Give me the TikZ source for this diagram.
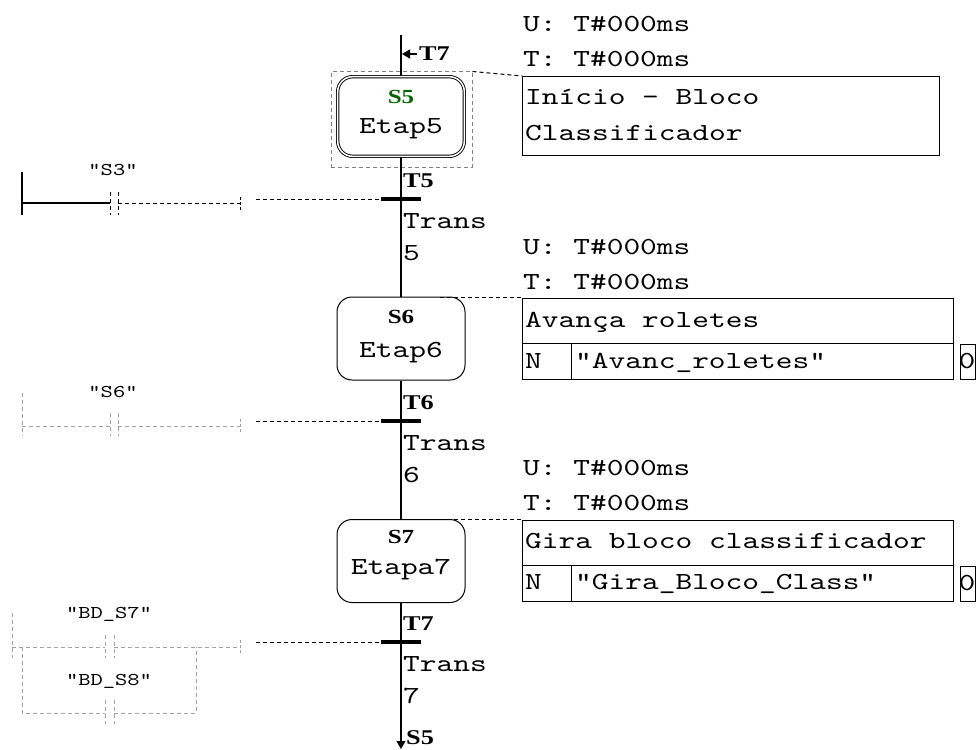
\documentclass[tikz,border=0pt]{standalone}
\usepackage{fontspec}
\newfontfamily\monof{lmmono10-regular}[Extension=.otf, FakeStretch=1.3]
\newfontfamily\lblf[FakeStretch=1.25]{Liberation Serif}
\usetikzlibrary{arrows.meta}
\definecolor{stepgreen}{RGB}{0,100,0}
\definecolor{ladgray}{RGB}{160,160,160}
\tikzset{
  txt/.style={inner sep=0pt, anchor=base west, font=\monof\fontsize{24.5}{28}\selectfont},
  ctxt/.style={inner sep=0pt, anchor=base, font=\monof\fontsize{24.5}{28}\selectfont},
  lbl/.style={inner sep=0pt, anchor=base west, font=\lblf\bfseries\fontsize{21}{24}\selectfont},
  clbl/.style={inner sep=0pt, anchor=base, font=\lblf\bfseries\fontsize{20}{24}\selectfont},
  opnd/.style={inner sep=0pt, anchor=base, font=\monof\fontsize{18}{20}\selectfont},
  stepbox/.style={draw, line width=1pt, rounded corners=15pt, inner sep=0pt, minimum width=128, minimum height=83},
  tbar/.style={fill=black, inner sep=0pt, minimum width=40, minimum height=4},
  abox/.style={draw, line width=1pt, inner sep=0pt, anchor=north west},
  bdash/.style={line width=1pt, dash pattern=on 4pt off 3pt},
  gdash/.style={draw=ladgray, line width=1pt, dash pattern=on 4pt off 3pt},
  wire/.style={line width=1.2pt},
}
\begin{document}
\begin{tikzpicture}[x=1pt,y=-1pt]
\useasboundingbox (0,0) rectangle (976,749);
% ---------- steps ----------
\node[draw, double, double distance=1.5pt, line width=0.9pt, rounded corners=15pt,
      minimum width=126.6, minimum height=79.6, inner sep=0pt] (s5) at (401,116.5) {};
\node[gdash, draw=gray, inner sep=0pt, minimum width=141, minimum height=95] (sel) at (401.5,119.5) {};
\node[clbl, text=stepgreen] (s5n) at (401,103) {S5};
\node[ctxt] (s5t) at (401,133) {Etap5};

\node[stepbox] (s6) at (401,338.5) {};
\node[clbl] (s6n) at (401,323) {S6};
\node[ctxt] (s6t) at (401,357) {Etap6};

\node[stepbox] (s7) at (401,561) {};
\node[clbl] (s7n) at (401,543) {S7};
\node[ctxt] (s7t) at (401,574) {Etapa7};

% ---------- transitions ----------
\node[tbar] (t5) at (400.5,199) {};
\node[tbar] (t6) at (400.5,421) {};
\node[tbar] (t7) at (400.5,642) {};

% ---------- main line ----------
\coordinate (top) at (401,35);
\coordinate (bot) at (401,749);
\draw[wire] (top) -- (s5.north);
\draw[wire] (s5.south) -- (s6.north);
\draw[wire] (s6.south) -- (s7.north);
\draw[wire, -{Triangle[length=8pt,width=9pt]}] (s7.south) -- (bot);
\coordinate (tjA) at (417,54);
\coordinate (tjB) at (402,54);
\draw[wire, -{Triangle[length=8pt,width=9pt]}] (tjA) -- (tjB);
\node[lbl] (jt7) at (419,61) {T7};
\node[lbl] (js5) at (406,744) {S5};

% transition labels
\node[lbl] (t5l) at (403,187) {T5};
\node[txt] (t5a) at (403,228) {Trans};
\node[txt] (t5b) at (403,260) {5};
\node[lbl] (t6l) at (403,409) {T6};
\node[txt] (t6a) at (403,450) {Trans};
\node[txt] (t6b) at (403,482) {6};
\node[lbl] (t7l) at (403,630) {T7};
\node[txt] (t7a) at (403,671) {Trans};
\node[txt] (t7b) at (403,703) {7};

% ---------- action blocks ----------
\node[txt] (u1) at (523,32) {U: T\#000ms};
\node[txt] (v1) at (523,67) {T: T\#000ms};
\node[abox, minimum width=417, minimum height=79] (a1) at (522,76) {};
\node[txt] (a1x) at (525,105) {Início - Bloco};
\node[txt] (a1y) at (525,140) {Classificador};
\draw[bdash] (sel.north east) -- (a1.north west);

\node[txt] (u2) at (523,254) {U: T\#000ms};
\node[txt] (v2) at (523,289) {T: T\#000ms};
\node[abox, minimum width=431, minimum height=45.5] (a2) at (522,297.5) {};
\node[abox, minimum width=49, minimum height=36] (a2n) at (522,343) {};
\node[abox, minimum width=382, minimum height=36] (a2q) at (571,343) {};
\node[txt] (a2x) at (525,327) {Avança roletes};
\node[txt] (a2y) at (525,368) {N};
\node[txt] (a2z) at (575,368) {"Avanc\_roletes"};
\node[abox, minimum width=15.5, minimum height=35] (a2o) at (959.5,344) {};
\node[ctxt] (a2ot) at (967,368) {0};
\coordinate (s6r) at (440,297.5);
\draw[bdash] (s6r) -- (a2.north west);

\node[txt] (u3) at (523,475) {U: T\#000ms};
\node[txt] (v3) at (523,510) {T: T\#000ms};
\node[abox, minimum width=431, minimum height=45] (a3) at (522,519.5) {};
\node[abox, minimum width=49, minimum height=36] (a3n) at (522,564.5) {};
\node[abox, minimum width=382, minimum height=36] (a3q) at (571,564.5) {};
\node[txt] (a3x) at (525,548) {Gira bloco classificador};
\node[txt] (a3y) at (525,589) {N};
\node[txt] (a3z) at (575,589) {"Gira\_Bloco\_Class"};
\node[abox, minimum width=15.5, minimum height=35] (a3o) at (959.5,565.5) {};
\node[ctxt] (a3ot) at (967,590) {0};
\coordinate (s7r) at (440,519.5);
\draw[bdash] (s7r) -- (a3.north west);

% ---------- ladder for T5 ----------
\node[opnd] (op3) at (113,175) {"S3"};
\coordinate (r1top) at (22,172); \coordinate (r1bot) at (22,215);
\draw[wire] (r1top) -- (r1bot);
\coordinate (r1a) at (22,203); \coordinate (r1b) at (110,203);
\draw[wire] (r1a) -- (r1b);
\coordinate (c1a) at (110,192); \coordinate (c1b) at (110,215);
\coordinate (c1c) at (118,192); \coordinate (c1d) at (118,215);
\draw[bdash] (c1a) -- (c1b); \draw[bdash] (c1c) -- (c1d);
\coordinate (r1c) at (118,203); \coordinate (r1d) at (240,203);
\draw[bdash] (r1c) -- (r1d);
\coordinate (k1a) at (240,197); \coordinate (k1b) at (240,210);
\draw[bdash, dash pattern=on 3pt off 2pt] (k1a) -- (k1b);
\coordinate (l5) at (256,199);
\draw[bdash] (l5) -- (t5.west);

% ---------- ladder for T6 ----------
\node[opnd] (op6) at (113,397) {"S6"};
\coordinate (r2top) at (22,393); \coordinate (r2bot) at (22,436);
\draw[gdash] (r2top) -- (r2bot);
\coordinate (r2a) at (22,426); \coordinate (r2b) at (110,426);
\draw[gdash] (r2a) -- (r2b);
\coordinate (c2a) at (110,413); \coordinate (c2b) at (110,436);
\coordinate (c2c) at (118,413); \coordinate (c2d) at (118,436);
\draw[gdash] (c2a) -- (c2b); \draw[gdash] (c2c) -- (c2d);
\coordinate (r2c) at (118,426); \coordinate (r2d) at (240,426);
\draw[gdash] (r2c) -- (r2d);
\coordinate (k2a) at (240,419); \coordinate (k2b) at (240,432);
\draw[gdash, dash pattern=on 3pt off 2pt] (k2a) -- (k2b);
\coordinate (l6) at (256,421);
\draw[bdash] (l6) -- (t6.west);

% ---------- ladder for T7 ----------
\node[opnd] (op7) at (109,618) {"BD\_S7"};
\node[opnd] (op8) at (109,685) {"BD\_S8"};
\coordinate (r3top) at (12,613); \coordinate (r3bot) at (12,658);
\draw[gdash] (r3top) -- (r3bot);
\coordinate (r3a) at (12,647); \coordinate (r3b) at (105,647);
\draw[gdash] (r3a) -- (r3b);
\coordinate (c3a) at (105,635); \coordinate (c3b) at (105,658);
\coordinate (c3c) at (114,635); \coordinate (c3d) at (114,658);
\draw[gdash] (c3a) -- (c3b); \draw[gdash] (c3c) -- (c3d);
\coordinate (r3c) at (114,647); \coordinate (r3d) at (240,647);
\draw[gdash] (r3c) -- (r3d);
\coordinate (k3a) at (240,640); \coordinate (k3b) at (240,653);
\draw[gdash, dash pattern=on 3pt off 2pt] (k3a) -- (k3b);
% parallel branch
\coordinate (b1) at (22,647); \coordinate (b2) at (22,713);
\coordinate (b3) at (105,713); \coordinate (b4) at (114,713);
\coordinate (b5) at (196,713); \coordinate (b6) at (196,647);
\draw[gdash] (b1) -- (b2) -- (b3);
\draw[gdash] (b4) -- (b5) -- (b6);
\coordinate (c4a) at (105,700); \coordinate (c4b) at (105,724);
\coordinate (c4c) at (114,700); \coordinate (c4d) at (114,724);
\draw[gdash] (c4a) -- (c4b); \draw[gdash] (c4c) -- (c4d);
\coordinate (l7) at (256,642);
\draw[bdash] (l7) -- (t7.west);
\end{tikzpicture}
\end{document}
